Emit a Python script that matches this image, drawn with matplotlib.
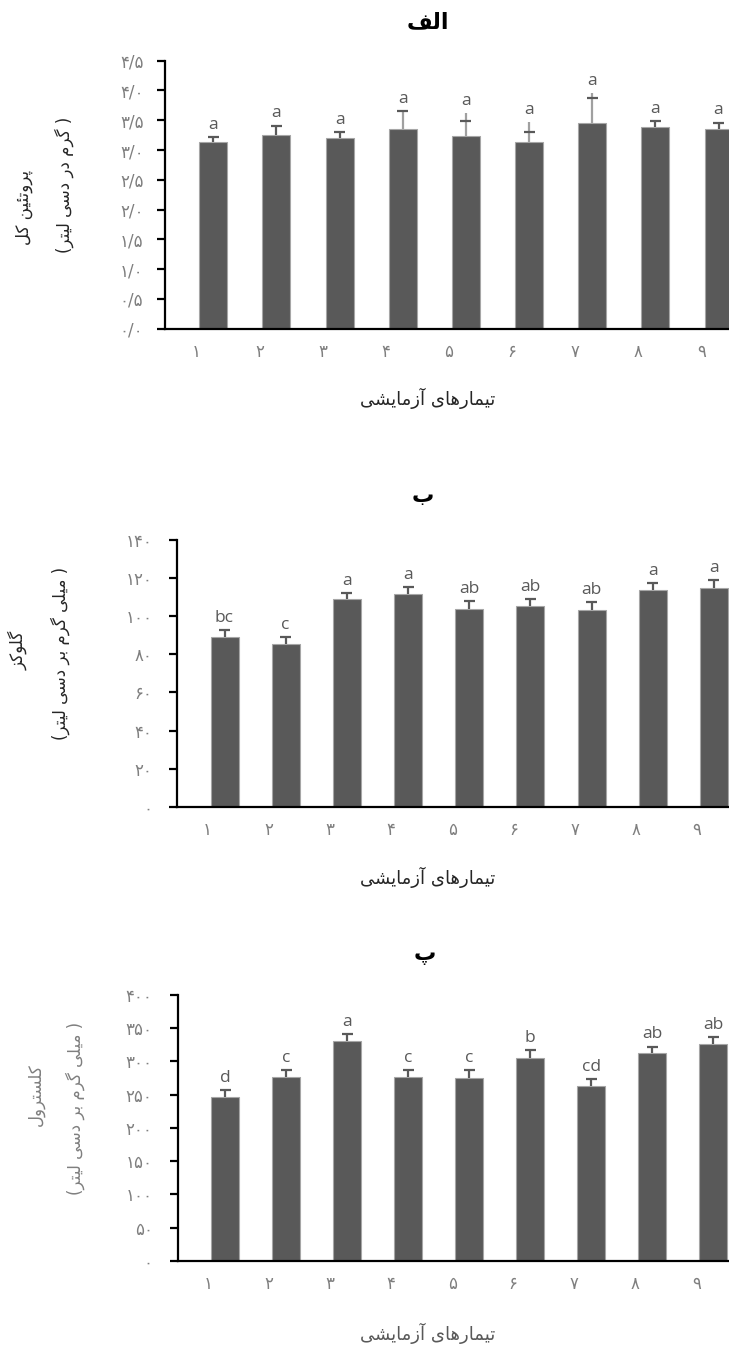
import numpy as np
import matplotlib
matplotlib.use("Agg")
import matplotlib.pyplot as plt
from matplotlib.transforms import ScaledTranslation

# ---------------- data ----------------
treatments = [1, 2, 3, 4, 5, 6, 7, 8, 9]

protein_mean = [3.13, 3.25, 3.20, 3.36, 3.24, 3.13, 3.45, 3.38, 3.36]
protein_cap = [3.22, 3.41, 3.30, 3.66, 3.49, 3.30, 3.88, 3.49, 3.46]
protein_whisker_top = [3.22, 3.41, 3.30, 3.66, 3.62, 3.47, 3.96, 3.49, 3.46]
protein_letters = ["a", "a", "a", "a", "a", "a", "a", "a", "a"]
protein_ticks = [0.0, 0.5, 1.0, 1.5, 2.0, 2.5, 3.0, 3.5, 4.0, 4.5]

glucose_mean = [89.0, 85.2, 109.0, 111.7, 104.0, 105.6, 103.4, 113.8, 115.0]
glucose_err = [3.6, 3.9, 3.3, 3.8, 4.0, 3.5, 4.0, 3.6, 4.0]
glucose_letters = ["bc", "c", "a", "a", "ab", "ab", "ab", "a", "a"]
glucose_ticks = [0, 20, 40, 60, 80, 100, 120, 140]

chol_mean = [247.0, 277.0, 331.0, 277.0, 275.5, 305.5, 262.5, 312.0, 326.5]
chol_err = [10.0, 10.0, 10.0, 10.0, 11.0, 11.5, 10.5, 10.0, 10.0]
chol_letters = ["d", "c", "a", "c", "c", "b", "cd", "ab", "ab"]
chol_ticks = [0, 50, 100, 150, 200, 250, 300, 350, 400]

titles = ["الف", "ب", "پ"]
ylabel_line1 = ["پروتئین کل", "گلوکز", "کلسترول"]
ylabel_line2 = ["( گرم در دسی لیتر)", "( میلی گرم بر دسی لیتر)", "( میلی گرم بر دسی لیتر)"]
xlabel_text = "تیمارهای آزمایشی"

# ---------------- Persian shaping helpers ----------------
FORMS = {
    "\u0627": ("\uFE8D", "\uFE8E", None, None),
    "\u0622": ("\uFE81", "\uFE82", None, None),
    "\u0628": ("\uFE8F", "\uFE90", "\uFE91", "\uFE92"),
    "\u067E": ("\uFB56", "\uFB57", "\uFB58", "\uFB59"),
    "\u062A": ("\uFE95", "\uFE96", "\uFE97", "\uFE98"),
    "\u062F": ("\uFEA9", "\uFEAA", None, None),
    "\u0631": ("\uFEAD", "\uFEAE", None, None),
    "\u0632": ("\uFEAF", "\uFEB0", None, None),
    "\u0633": ("\uFEB1", "\uFEB2", "\uFEB3", "\uFEB4"),
    "\u0634": ("\uFEB5", "\uFEB6", "\uFEB7", "\uFEB8"),
    "\u0641": ("\uFED1", "\uFED2", "\uFED3", "\uFED4"),
    "\u06A9": ("\uFB8E", "\uFB8F", "\uFB90", "\uFB91"),
    "\u06AF": ("\uFB92", "\uFB93", "\uFB94", "\uFB95"),
    "\u0644": ("\uFEDD", "\uFEDE", "\uFEDF", "\uFEE0"),
    "\u0645": ("\uFEE1", "\uFEE2", "\uFEE3", "\uFEE4"),
    "\u0646": ("\uFEE5", "\uFEE6", "\uFEE7", "\uFEE8"),
    "\u0647": ("\uFEE9", "\uFEEA", "\uFEEB", "\uFEEC"),
    "\u0648": ("\uFEED", "\uFEEE", None, None),
    "\u06CC": ("\uFBFC", "\uFBFD", "\uFBFE", "\uFBFF"),
    "\u0626": ("\uFE89", "\uFE8A", "\uFE8B", "\uFE8C"),
}
MIRROR = {"(": ")", ")": "("}


def fa(text):
    text = text.replace("\u064A", "\u06CC").replace("\u0643", "\u06A9")
    out = []
    n = len(text)
    for i, c in enumerate(text):
        if c not in FORMS:
            out.append(c)
            continue
        iso, fin, ini, med = FORMS[c]
        prev = text[i - 1] if i > 0 else ""
        nxt = text[i + 1] if i + 1 < n else ""
        join_prev = prev in FORMS and FORMS[prev][2] is not None
        join_next = nxt in FORMS and ini is not None
        if join_prev and join_next:
            out.append(med)
        elif join_prev:
            out.append(fin)
        elif join_next:
            out.append(ini)
        else:
            out.append(iso)
    vis = "".join(MIRROR.get(ch, ch) for ch in reversed(out))
    return vis


FA_DIGITS = str.maketrans("0123456789.", "۰۱۲۳۴۵۶۷۸۹/")


def fa_num(s):
    return s.translate(FA_DIGITS)


# ---------------- layout ----------------
W, H = 729, 1349
fig = plt.figure(figsize=(W / 100, H / 100), dpi=100)
fig.patch.set_facecolor("white")

BAR = "#595959"
EDGE = "#a6a6a6"
TXT = "#595959"
AR_FONT = "DejaVu Sans"
LAT_FONT = "Open Sans"


def px_axes(left, top, right, bottom):
    return fig.add_axes([left / W, 1 - bottom / H, (right - left) / W, (bottom - top) / H])


panels = [
    dict(left=165, top=60.7, bottom=328.7, c1=213.3, step=63.15, ymax=4.5,
         mean=protein_mean, cap=protein_cap, wtop=protein_whisker_top,
         letters=protein_letters, ticks=protein_ticks, fmt="{:.1f}",
         wcolors=[BAR, BAR, BAR, "#a0a0a0", "#a0a0a0", "#a0a0a0", "#a0a0a0", BAR, BAR],
         ypad=10, title_xy=(428, 22), xlab_y=398, yl1=(24, 207), yl2=(64, 185),
         ylcolor="#262626", xlcolor="#262626"),
    dict(left=177.3, top=540, bottom=806.7, c1=224.5, step=61.17, ymax=140,
         mean=glucose_mean,
         cap=[m + e for m, e in zip(glucose_mean, glucose_err)],
         wtop=[m + e for m, e in zip(glucose_mean, glucose_err)],
         letters=glucose_letters, ticks=glucose_ticks, fmt="{:d}",
         wcolors=[BAR] * 9,
         ypad=12.5, title_xy=(423, 496), xlab_y=877, yl1=(18, 650), yl2=(60, 653),
         ylcolor="#262626", xlcolor="#262626"),
    dict(left=177.7, top=994.7, bottom=1261, c1=225.2, step=61.0, ymax=400,
         mean=chol_mean,
         cap=[m + e for m, e in zip(chol_mean, chol_err)],
         wtop=[m + e for m, e in zip(chol_mean, chol_err)],
         letters=chol_letters, ticks=chol_ticks, fmt="{:d}",
         wcolors=[BAR] * 9,
         ypad=12.5, title_xy=(425, 955), xlab_y=1333, yl1=(36, 1095), yl2=(75, 1108),
         ylcolor="#7f7f7f", xlcolor="#595959"),
]

for k, p in enumerate(panels):
    right_px = 770
    ax = px_axes(p["left"], p["top"], right_px, p["bottom"])
    x = np.array(treatments, dtype=float)
    x0 = 1 - (p["c1"] - p["left"]) / p["step"]
    x1 = 1 + (right_px - p["c1"]) / p["step"]
    width = 28.0 / p["step"]
    capw = 5.5 / p["step"]

    ax.bar(x, p["mean"], width=width, color=BAR, edgecolor=EDGE, linewidth=0.8, zorder=2)
    ax.vlines(x, p["mean"], p["wtop"], colors=p["wcolors"], linewidth=1.6, zorder=3)
    ax.hlines(p["cap"], x - capw, x + capw, colors=BAR, linewidth=1.6, zorder=3)
    for xi, top, lab in zip(x, p["wtop"], p["letters"]):
        ax.annotate(lab, (xi, top), xytext=(0, 3), textcoords="offset points",
                    ha="center", va="bottom", fontsize=12.5, color=TXT, family=LAT_FONT)

    ax.set_xlim(x0, x1)
    ax.set_ylim(0, p["ymax"])
    for s in ("top", "right"):
        ax.spines[s].set_visible(False)
    for s in ("left", "bottom"):
        ax.spines[s].set_color("black")
        ax.spines[s].set_linewidth(1.6)
    ax.set_yticks(p["ticks"])
    if p["fmt"] == "{:.1f}":
        ax.set_yticklabels([fa_num("{:.1f}".format(t)) for t in p["ticks"]])
    else:
        ax.set_yticklabels([fa_num("{:d}".format(int(t))) for t in p["ticks"]])
    ax.tick_params(axis="y", direction="out", length=5.5, width=1.6, color="black",
                   pad=p["ypad"], labelsize=12, labelcolor="#7f7f7f")
    ax.set_xticks(x)
    ax.set_xticklabels([fa_num(str(t)) for t in treatments])
    ax.tick_params(axis="x", length=0, pad=10, labelsize=12, labelcolor="#7f7f7f")
    off = ScaledTranslation(-0.17, 0, fig.dpi_scale_trans)
    for lab in ax.get_xticklabels():
        lab.set_transform(lab.get_transform() + off)
        lab.set_family(AR_FONT)
    for lab in ax.get_yticklabels():
        lab.set_family(AR_FONT)

    tx, ty = p["title_xy"]
    fig.text(tx / W, 1 - ty / H, fa(titles[k]), ha="center", va="center",
             fontsize=16, fontweight="bold", family=AR_FONT, color="black")
    fig.text(428 / W, 1 - p["xlab_y"] / H, fa(xlabel_text), ha="center", va="center",
             fontsize=13, family=AR_FONT, color=p["xlcolor"])
    l1x, l1y = p["yl1"]
    l2x, l2y = p["yl2"]
    fig.text(l1x / W, 1 - l1y / H, fa(ylabel_line1[k]), ha="center", va="center",
             rotation=90, fontsize=12, family=AR_FONT, color=p["ylcolor"])
    fig.text(l2x / W, 1 - l2y / H, fa(ylabel_line2[k]), ha="center", va="center",
             rotation=90, fontsize=12, family=AR_FONT, color=p["ylcolor"])

fig.savefig("out.png", dpi=100, facecolor="white")
